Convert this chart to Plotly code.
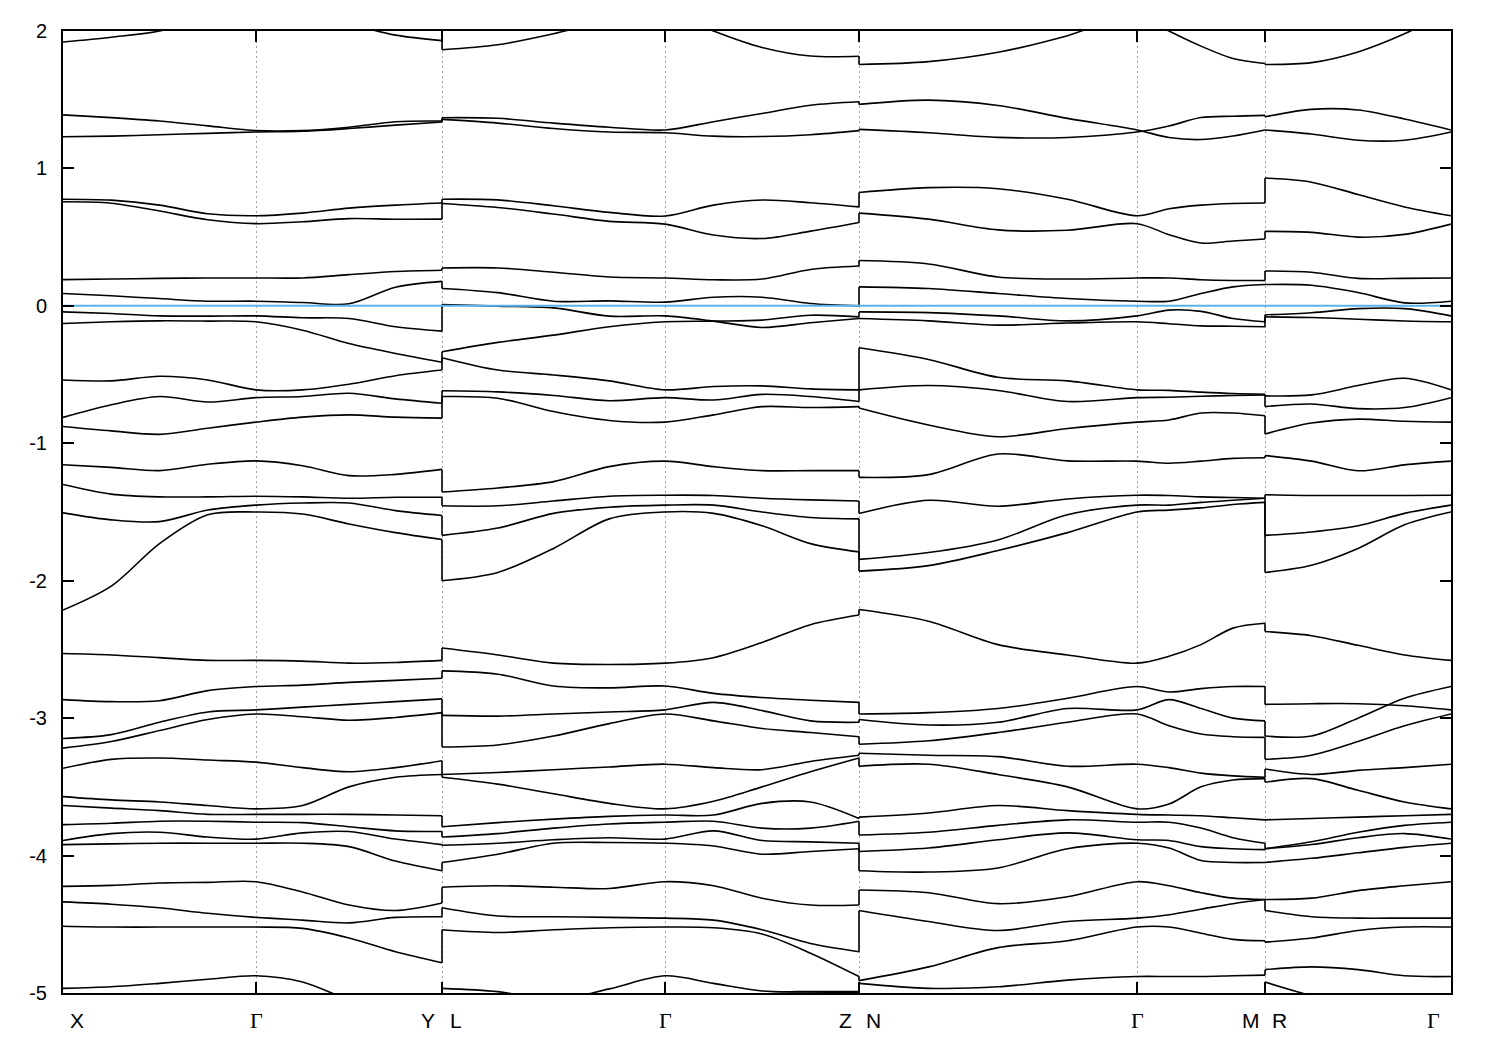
import numpy as np
import plotly.graph_objects as go

# ---------------- data ----------------
# path lengths between the labelled k-points (X-G, G-Y, L-G, G-Z, N-G, G-M, R-G)
seg_len = [1.93, 1.86, 2.23, 1.94, 2.78, 1.28, 1.86]
tick_names = ["X", "Γ", "Y|L", "Γ", "Z|N", "Γ", "M|R", "Γ"]
y_ticks = [-5, -4, -3, -2, -1, 0, 1, 2]
y_tick_text = ["-5", "-4", "-3", "-2", "-1", "0", "1", "2"]
fermi_level = 0.0

# band energies (eV) sampled along each continuous piece of the path
# X - Γ - Y : 9 samples
bands_XY = [
    [1.92, 1.955, 2.0, 2.1, 2.15, 2.12, 2.05, 1.97, 1.93],
    [1.39, 1.37, 1.345, 1.31, 1.275, 1.275, 1.30, 1.34, 1.345],
    [1.23, 1.235, 1.245, 1.255, 1.265, 1.27, 1.29, 1.315, 1.338],
    [0.776, 0.769, 0.733, 0.67, 0.656, 0.675, 0.711, 0.733, 0.748],
    [0.757, 0.747, 0.69, 0.627, 0.598, 0.612, 0.635, 0.63, 0.631],
    [0.191, 0.195, 0.20, 0.203, 0.203, 0.203, 0.227, 0.25, 0.259],
    [0.09, 0.073, 0.053, 0.034, 0.034, 0.024, 0.015, 0.136, 0.178],
    [-0.044, -0.056, -0.073, -0.075, -0.073, -0.087, -0.092, -0.152, -0.184],
    [-0.128, -0.116, -0.109, -0.111, -0.116, -0.177, -0.274, -0.346, -0.41],
    [-0.539, -0.546, -0.512, -0.539, -0.611, -0.611, -0.57, -0.508, -0.467],
    [-0.812, -0.72, -0.66, -0.70, -0.668, -0.66, -0.636, -0.677, -0.709],
    [-0.878, -0.91, -0.935, -0.89, -0.846, -0.81, -0.793, -0.81, -0.817],
    [-1.156, -1.175, -1.199, -1.153, -1.128, -1.163, -1.235, -1.226, -1.19],
    [-1.30, -1.37, -1.39, -1.39, -1.385, -1.39, -1.40, -1.393, -1.393],
    [-1.506, -1.557, -1.57, -1.486, -1.45, -1.435, -1.435, -1.49, -1.525],
    [-2.214, -2.04, -1.73, -1.52, -1.50, -1.515, -1.587, -1.65, -1.70],
    [-2.53, -2.54, -2.56, -2.58, -2.58, -2.585, -2.60, -2.595, -2.58],
    [-2.865, -2.88, -2.873, -2.80, -2.77, -2.76, -2.74, -2.725, -2.71],
    [-3.148, -3.12, -3.03, -2.955, -2.94, -2.92, -2.90, -2.88, -2.86],
    [-3.218, -3.17, -3.09, -3.01, -2.97, -2.99, -3.015, -2.995, -2.96],
    [-3.365, -3.30, -3.29, -3.305, -3.32, -3.36, -3.39, -3.36, -3.31],
    [-3.571, -3.595, -3.61, -3.636, -3.66, -3.636, -3.50, -3.43, -3.41],
    [-3.636, -3.655, -3.673, -3.70, -3.70, -3.70, -3.70, -3.705, -3.71],
    [-3.775, -3.765, -3.75, -3.75, -3.757, -3.76, -3.79, -3.82, -3.825],
    [-3.89, -3.84, -3.83, -3.865, -3.88, -3.835, -3.825, -3.88, -3.92],
    [-3.92, -3.915, -3.91, -3.91, -3.91, -3.91, -3.935, -4.04, -4.11],
    [-4.224, -4.217, -4.20, -4.195, -4.19, -4.265, -4.36, -4.40, -4.345],
    [-4.337, -4.354, -4.38, -4.42, -4.45, -4.47, -4.49, -4.45, -4.445],
    [-4.514, -4.52, -4.52, -4.52, -4.52, -4.53, -4.60, -4.70, -4.78],
    [-4.966, -4.955, -4.93, -4.90, -4.875, -4.92, -5.05, -5.15, -5.2],
]

# L - Γ - Z : 9 samples
bands_LZ = [
    [1.864, 1.90, 1.98, 2.08, 2.15, 2.0, 1.88, 1.818, 1.816],
    [1.369, 1.365, 1.33, 1.30, 1.28, 1.34, 1.40, 1.46, 1.485],
    [1.357, 1.33, 1.29, 1.265, 1.26, 1.235, 1.232, 1.245, 1.275],
    [0.776, 0.771, 0.728, 0.68, 0.654, 0.733, 0.77, 0.75, 0.72],
    [0.745, 0.716, 0.668, 0.615, 0.595, 0.515, 0.49, 0.544, 0.607],
    [0.276, 0.276, 0.245, 0.21, 0.203, 0.19, 0.195, 0.265, 0.29],
    [0.126, 0.096, 0.034, 0.036, 0.027, 0.063, 0.063, 0.017, 0.0],
    [0.01, -0.002, -0.015, -0.075, -0.073, -0.111, -0.157, -0.123, -0.092],
    [-0.334, -0.266, -0.213, -0.152, -0.116, -0.111, -0.104, -0.068, -0.08],
    [-0.377, -0.467, -0.503, -0.546, -0.611, -0.587, -0.582, -0.604, -0.611],
    [-0.618, -0.626, -0.652, -0.69, -0.668, -0.685, -0.644, -0.66, -0.696],
    [-0.66, -0.672, -0.769, -0.834, -0.846, -0.793, -0.733, -0.74, -0.733],
    [-1.354, -1.325, -1.279, -1.17, -1.13, -1.17, -1.199, -1.199, -1.199],
    [-1.455, -1.455, -1.42, -1.385, -1.378, -1.38, -1.40, -1.412, -1.42],
    [-1.67, -1.617, -1.51, -1.465, -1.45, -1.45, -1.50, -1.54, -1.55],
    [-2.0, -1.94, -1.765, -1.55, -1.50, -1.51, -1.60, -1.73, -1.79],
    [-2.49, -2.54, -2.60, -2.61, -2.60, -2.56, -2.45, -2.32, -2.25],
    [-2.656, -2.68, -2.766, -2.78, -2.766, -2.82, -2.85, -2.87, -2.885],
    [-2.98, -2.985, -2.97, -2.955, -2.94, -2.885, -2.945, -3.02, -3.03],
    [-3.21, -3.195, -3.13, -3.04, -2.97, -3.02, -3.075, -3.105, -3.135],
    [-3.41, -3.395, -3.375, -3.355, -3.335, -3.36, -3.375, -3.315, -3.27],
    [-3.43, -3.48, -3.55, -3.62, -3.66, -3.605, -3.50, -3.39, -3.29],
    [-3.79, -3.76, -3.735, -3.715, -3.705, -3.705, -3.62, -3.61, -3.73],
    [-3.865, -3.84, -3.80, -3.77, -3.757, -3.75, -3.80, -3.80, -3.75],
    [-3.925, -3.91, -3.885, -3.87, -3.88, -3.82, -3.89, -3.90, -3.91],
    [-4.05, -3.99, -3.91, -3.905, -3.91, -3.93, -3.99, -3.97, -3.95],
    [-4.23, -4.22, -4.23, -4.24, -4.19, -4.22, -4.31, -4.36, -4.36],
    [-4.38, -4.44, -4.445, -4.45, -4.455, -4.47, -4.54, -4.64, -4.70],
    [-4.54, -4.56, -4.54, -4.525, -4.52, -4.525, -4.57, -4.71, -4.88],
    [-4.966, -4.99, -5.05, -4.97, -4.875, -4.93, -4.985, -4.99, -4.99],
    [-5.3, -5.3, -5.3, -5.3, -5.25, -5.1, -5.01, -5.0, -4.995],
]

# N - Γ - M : 9 samples
bands_NM = [
    [1.756, 1.777, 1.845, 1.966, 2.12, 2.0, 1.89, 1.80, 1.763],
    [1.466, 1.497, 1.458, 1.364, 1.28, 1.225, 1.21, 1.236, 1.28],
    [1.284, 1.26, 1.226, 1.225, 1.265, 1.309, 1.37, 1.38, 1.386],
    [0.825, 0.86, 0.852, 0.776, 0.656, 0.707, 0.733, 0.745, 0.748],
    [0.675, 0.631, 0.553, 0.55, 0.598, 0.518, 0.457, 0.472, 0.486],
    [0.33, 0.305, 0.21, 0.195, 0.203, 0.203, 0.19, 0.185, 0.185],
    [0.138, 0.126, 0.09, 0.053, 0.034, 0.034, 0.09, 0.138, 0.155],
    [-0.044, -0.049, -0.073, -0.109, -0.073, -0.031, -0.04, -0.092, -0.116],
    [-0.092, -0.109, -0.14, -0.125, -0.116, -0.13, -0.146, -0.148, -0.152],
    [-0.305, -0.39, -0.52, -0.546, -0.611, -0.615, -0.628, -0.638, -0.643],
    [-0.611, -0.58, -0.616, -0.696, -0.668, -0.665, -0.658, -0.652, -0.648],
    [-0.743, -0.867, -0.952, -0.892, -0.846, -0.83, -0.78, -0.78, -0.80],
    [-1.248, -1.228, -1.078, -1.128, -1.13, -1.145, -1.13, -1.11, -1.105],
    [-1.511, -1.415, -1.458, -1.405, -1.378, -1.38, -1.39, -1.395, -1.40],
    [-1.845, -1.795, -1.703, -1.52, -1.45, -1.45, -1.43, -1.415, -1.40],
    [-1.93, -1.89, -1.78, -1.65, -1.50, -1.486, -1.47, -1.445, -1.43],
    [-2.21, -2.295, -2.465, -2.54, -2.60, -2.55, -2.465, -2.345, -2.31],
    [-2.97, -2.96, -2.93, -2.855, -2.77, -2.81, -2.785, -2.77, -2.77],
    [-3.01, -3.05, -3.03, -2.93, -2.94, -2.865, -2.93, -3.00, -3.02],
    [-3.19, -3.165, -3.105, -3.03, -2.97, -3.056, -3.116, -3.135, -3.14],
    [-3.255, -3.27, -3.28, -3.35, -3.335, -3.36, -3.40, -3.42, -3.43],
    [-3.35, -3.335, -3.41, -3.50, -3.66, -3.625, -3.50, -3.45, -3.44],
    [-3.72, -3.69, -3.636, -3.673, -3.70, -3.705, -3.71, -3.725, -3.74],
    [-3.85, -3.83, -3.78, -3.74, -3.757, -3.757, -3.80, -3.87, -3.91],
    [-3.97, -3.945, -3.885, -3.835, -3.885, -3.89, -3.935, -3.95, -3.957],
    [-4.11, -4.12, -4.09, -3.95, -3.91, -3.945, -4.036, -4.05, -4.05],
    [-4.25, -4.27, -4.35, -4.30, -4.19, -4.22, -4.27, -4.31, -4.32],
    [-4.40, -4.48, -4.545, -4.48, -4.455, -4.43, -4.39, -4.35, -4.32],
    [-4.91, -4.81, -4.67, -4.62, -4.52, -4.52, -4.565, -4.61, -4.62],
    [-4.93, -4.966, -4.955, -4.906, -4.88, -4.88, -4.88, -4.875, -4.87],
    [-5.02, -5.1, -5.15, -5.15, -5.12, -5.1, -5.08, -5.05, -5.02],
]

# R - Γ : 5 samples
bands_RG = [
    [1.756, 1.77, 1.848, 1.98, 2.15],
    [1.376, 1.43, 1.425, 1.36, 1.28],
    [1.28, 1.25, 1.205, 1.205, 1.265],
    [0.93, 0.90, 0.81, 0.72, 0.656],
    [0.542, 0.535, 0.50, 0.52, 0.595],
    [0.254, 0.245, 0.20, 0.20, 0.203],
    [0.155, 0.15, 0.097, 0.022, 0.034],
    [-0.065, -0.05, -0.02, -0.02, -0.073],
    [-0.08, -0.085, -0.097, -0.11, -0.116],
    [-0.655, -0.648, -0.58, -0.527, -0.611],
    [-0.733, -0.714, -0.748, -0.74, -0.668],
    [-0.932, -0.853, -0.824, -0.84, -0.846],
    [-1.09, -1.13, -1.20, -1.157, -1.13],
    [-1.374, -1.38, -1.38, -1.38, -1.378],
    [-1.67, -1.645, -1.60, -1.51, -1.45],
    [-1.94, -1.887, -1.765, -1.593, -1.50],
    [-2.37, -2.40, -2.47, -2.54, -2.58],
    [-2.90, -2.895, -2.895, -2.91, -2.94],
    [-3.13, -3.13, -3.0, -2.855, -2.77],
    [-3.30, -3.27, -3.17, -3.056, -2.97],
    [-3.37, -3.41, -3.38, -3.36, -3.335],
    [-3.467, -3.44, -3.525, -3.61, -3.66],
    [-3.74, -3.73, -3.72, -3.71, -3.70],
    [-3.95, -3.90, -3.83, -3.78, -3.757],
    [-3.95, -3.92, -3.87, -3.84, -3.88],
    [-4.05, -4.02, -3.98, -3.94, -3.91],
    [-4.32, -4.31, -4.255, -4.22, -4.19],
    [-4.40, -4.445, -4.455, -4.455, -4.455],
    [-4.63, -4.60, -4.545, -4.52, -4.52],
    [-4.83, -4.81, -4.83, -4.875, -4.88],
    [-4.92, -5.02, -5.1, -5.15, -5.2],
]

# ---------------- geometry of the k-path ----------------
k_ticks = np.concatenate([[0.0], np.cumsum(seg_len)])
pieces = [(0, 2, bands_XY), (2, 4, bands_LZ), (4, 6, bands_NM), (6, 7, bands_RG)]


def piece_x(i0, i1, n_total):
    n_sub = i1 - i0
    per = (n_total - 1) // n_sub
    xs = []
    for s in range(i0, i1):
        pts = np.linspace(k_ticks[s], k_ticks[s + 1], per + 1)
        xs.extend(pts if s == i0 else pts[1:])
    return xs


fig = go.Figure()

for i0, i1, bands in pieces:
    xs_all, ys_all = [], []
    for b in bands:
        xs = piece_x(i0, i1, len(b))
        xs_all += list(xs) + [None]
        ys_all += list(b) + [None]
    fig.add_trace(go.Scatter(
        x=xs_all, y=ys_all, mode="lines",
        line=dict(color="black", width=1.6, shape="spline", smoothing=0.9),
        hoverinfo="skip", showlegend=False))

# vertical connections at the path discontinuities (band n to band n)
jx, jy = [], []
for a, b in zip(pieces[:-1], pieces[1:]):
    xj = k_ticks[a[1]]
    left = sorted([bd[-1] for bd in a[2]], reverse=True)
    right = sorted([bd[0] for bd in b[2]], reverse=True)
    for yl, yr in zip(left, right):
        jx += [xj, xj, None]
        jy += [yl, yr, None]
fig.add_trace(go.Scatter(x=jx, y=jy, mode="lines",
                         line=dict(color="black", width=1.6),
                         hoverinfo="skip", showlegend=False))

# Fermi level
fig.add_trace(go.Scatter(x=[k_ticks[0], k_ticks[-1]], y=[fermi_level, fermi_level],
                         mode="lines", line=dict(color="#56B4E9", width=2),
                         hoverinfo="skip", showlegend=False))

# k-point labels
label_font = dict(family="Liberation Sans, Arial, sans-serif", size=21, color="black")
gamma_font = dict(family="Liberation Serif, Times New Roman, serif", size=22, color="black")
label_specs = []
for idx, name in enumerate(tick_names):
    if "|" in name:
        left_name, right_name = name.split("|")
        label_specs.append((k_ticks[idx], left_name, -14))
        label_specs.append((k_ticks[idx], right_name, 14))
    else:
        shift = 0
        if idx == 0:
            shift = 14
        elif idx == len(tick_names) - 1:
            shift = -18
        label_specs.append((k_ticks[idx], name, shift))

for xv, txt, sh in label_specs:
    fig.add_annotation(x=xv, y=0, xref="x", yref="paper", text=txt, showarrow=False,
                       xshift=sh, yshift=-27, yanchor="middle", xanchor="center",
                       font=gamma_font if txt == "Γ" else label_font)

fig.update_layout(
    width=1492, height=1042,
    margin=dict(l=55, r=49, t=20, b=57),
    paper_bgcolor="white", plot_bgcolor="white",
    showlegend=False,
    xaxis=dict(range=[k_ticks[0], k_ticks[-1]], tickvals=list(k_ticks), showticklabels=False,
               ticks="inside", ticklen=11, tickwidth=1.5, tickcolor="black",
               showline=True, linecolor="black", linewidth=2, mirror="ticks",
               showgrid=True, gridcolor="#a0a0a0", gridwidth=1, griddash="2px,3px",
               zeroline=False),
    yaxis=dict(range=[-5, 2], tickvals=y_ticks, ticktext=y_tick_text,
               ticks="inside", ticklen=11, tickwidth=1.5, tickcolor="black",
               showline=True, linecolor="black", linewidth=2, mirror="ticks",
               showgrid=False, zeroline=False, ticklabelstandoff=10,
               tickfont=dict(family="Liberation Sans, Arial, sans-serif", size=20, color="black")),
)

fig.write_html("out.html")
